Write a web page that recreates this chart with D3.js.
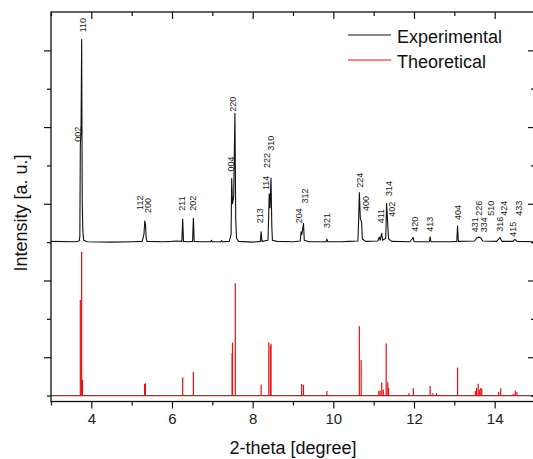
<!DOCTYPE html>
<html>
<head>
<meta charset="utf-8">
<script src="https://cdn.jsdelivr.net/npm/d3@7/dist/d3.min.js"></script>
<style>
  html, body { margin: 0; padding: 0; background: #fff; }
  svg { display: block; font-family: Arial, "Liberation Sans", sans-serif; }
</style>
</head>
<body>
<svg id="chart" width="533" height="459"></svg>
<script>
// Measured pattern (2-theta in degrees, intensity in a.u., offset above the calculated one)
const expTheta = [3.00, 3.60, 3.70, 3.715, 3.727, 3.745, 3.76, 3.775, 3.79, 3.81, 3.90, 4.50, 5.00,
  5.26, 5.305, 5.325, 5.345, 5.36, 5.38, 5.80, 6.00, 6.10, 6.245, 6.265, 6.285, 6.40, 6.51, 6.53, 6.55,
  6.70, 6.96, 6.98, 7.00, 7.21, 7.23, 7.25, 7.42, 7.465, 7.48, 7.50, 7.53, 7.56, 7.58, 7.60, 7.65,
  8.00, 8.19, 8.21, 8.23, 8.38, 8.395, 8.41, 8.43, 8.455, 8.475, 8.49, 8.60, 9.00,
  9.18, 9.20, 9.22, 9.26, 9.28, 9.40, 9.82, 9.84, 9.86, 10.20, 10.40, 10.61, 10.625, 10.645, 10.67,
  10.70, 10.72, 10.80, 11.10, 11.14, 11.16, 11.20, 11.22, 11.30, 11.32, 11.35, 11.37, 11.45,
  11.90, 11.98, 12.00, 12.38, 12.40, 12.42, 12.90, 13.06, 13.08, 13.10, 13.50, 13.55, 13.58, 13.62,
  13.66, 13.70, 14.05, 14.13, 14.18, 14.45, 14.50, 14.56, 15.00];
const expInt = [4.02, 4.01, 4.03, 4.15, 6.53, 6.90, 9.28, 5.00, 4.30, 4.05, 4.01, 4.00, 4.01,
  4.02, 4.20, 4.55, 4.45, 4.10, 4.02, 4.01, 4.02, 4.03, 4.02, 4.60, 4.02, 4.01, 4.02, 4.62, 4.02,
  4.01, 4.01, 4.05, 4.01, 4.01, 4.04, 4.01, 4.02, 4.20, 5.66, 5.00, 5.20, 7.36, 4.60, 4.10, 4.02,
  4.00, 4.02, 4.27, 4.02, 4.05, 4.60, 5.26, 4.90, 5.67, 4.40, 4.05, 4.02, 4.01,
  4.03, 4.27, 4.20, 4.49, 4.05, 4.01, 4.01, 4.08, 4.01, 4.01, 4.02, 4.03, 4.50, 5.29, 4.60,
  4.53, 4.08, 4.02, 4.03, 4.13, 4.05, 4.23, 4.05, 4.10, 5.01, 4.45, 4.08, 4.02,
  4.01, 4.12, 4.01, 4.01, 4.14, 4.01, 4.01, 4.02, 4.42, 4.02, 4.03, 4.10, 4.12, 4.13,
  4.11, 4.03, 4.02, 4.12, 4.02, 4.02, 4.07, 4.02, 4.01];

// Calculated reflections (2-theta, intensity)
const theoTheta = [3.727, 3.76, 3.78, 5.32, 5.34, 6.265, 6.53, 7.49, 7.50, 7.57, 8.21, 8.40, 8.44, 8.455,
  9.215, 9.26, 9.84, 10.645, 10.69, 11.125, 11.16, 11.20, 11.24, 11.31, 11.35, 11.37, 11.87, 11.985,
  12.40, 12.47, 12.56, 13.08, 13.52, 13.55, 13.59, 13.62, 13.655, 13.68, 14.10, 14.15, 14.46, 14.51, 14.55];
const theoInt = [2.49, 3.75, 0.41, 0.30, 0.32, 0.47, 0.62, 1.10, 1.38, 2.93, 0.28, 1.38, 1.30, 1.35,
  0.30, 0.28, 0.12, 1.81, 0.93, 0.12, 0.13, 0.34, 0.16, 1.36, 0.35, 0.20, 0.06, 0.19,
  0.25, 0.06, 0.06, 0.73, 0.12, 0.20, 0.31, 0.15, 0.20, 0.18, 0.10, 0.19, 0.05, 0.13, 0.09];

// Miller indices written above the measured peaks
const hklText  = ["110", "002", "112", "200", "211", "202", "004", "220", "213", "114", "222", "310",
  "204", "312", "321", "224", "400", "411", "314", "402", "420", "413", "404", "431", "226", "334",
  "510", "316", "424", "415", "433"];
const hklTheta = [3.786, 3.662, 5.207, 5.413, 6.241, 6.528, 7.463, 7.520, 8.182, 8.324, 8.348, 8.455,
  9.157, 9.298, 9.836, 10.662, 10.81, 11.175, 11.381, 11.463, 12.026, 12.398, 13.085, 13.513, 13.612, 13.72,
  13.903, 14.116, 14.232, 14.448, 14.604];
const hklInt   = [9.47, 6.62, 4.84, 4.76, 4.82, 4.82, 5.84, 7.40, 4.49, 5.36, 5.93, 6.38,
  4.49, 5.01, 4.37, 5.42, 4.81, 4.49, 5.20, 4.66, 4.27, 4.27, 4.58, 4.26, 4.69, 4.26,
  4.69, 4.27, 4.69, 4.14, 4.69];

const xMajor = [4, 6, 8, 10, 12, 14];
const xMinor = [3, 5, 7, 9, 11, 13, 15];
const yMajor = [1, 3, 5, 7, 9];
const yMinor = [0, 2, 4, 6, 8];

const seriesNames = ["Experimental", "Theoretical"];
const seriesColors = ["#111111", "#e81010"];

const svg = d3.select("#chart");
const plotLeft = 51, plotRight = 535, plotTop = 12, plotBottom = 401.5;

const x = d3.scaleLinear().domain([3, 15]).range([plotLeft, plotRight]);
const y = d3.scaleLinear().domain([-0.155, 10]).range([plotBottom, plotTop]);

// Calculated pattern: baseline with sticks
const theo = svg.append("g");
theo.append("line")
  .attr("x1", x(3)).attr("x2", x(15))
  .attr("y1", y(0)).attr("y2", y(0))
  .attr("stroke", seriesColors[1]).attr("stroke-width", 1.3);
theo.selectAll("line.stick")
  .data(d3.zip(theoTheta, theoInt))
  .join("line")
  .attr("class", "stick")
  .attr("x1", d => x(d[0])).attr("x2", d => x(d[0]))
  .attr("y1", y(0)).attr("y2", d => y(d[1]))
  .attr("stroke", seriesColors[1]).attr("stroke-width", 1.2);

// Measured pattern
svg.append("path")
  .datum(d3.zip(expTheta, expInt))
  .attr("fill", "none")
  .attr("stroke", seriesColors[0])
  .attr("stroke-width", 1.1)
  .attr("stroke-linejoin", "round")
  .attr("d", d3.line().x(d => x(d[0])).y(d => y(d[1])));

// Peak labels
svg.append("g").selectAll("text")
  .data(d3.zip(hklText, hklTheta, hklInt))
  .join("text")
  .attr("transform", d => `translate(${x(d[1])},${y(d[2])}) rotate(-90)`)
  .attr("dy", "0.35em")
  .attr("text-anchor", "start")
  .attr("font-size", 9)
  .attr("fill", "#222")
  .text(d => d[0]);

// Frame and ticks
const axisColor = "#111";
function styleAxis(g) {
  g.select(".domain").remove();
  g.selectAll(".tick line").attr("stroke", axisColor).attr("stroke-width", 1.2);
}
svg.append("g").attr("transform", `translate(0,${plotBottom})`)
  .call(d3.axisBottom(x).tickValues(xMajor).tickSize(7).tickPadding(5).tickFormat(d3.format("d")))
  .call(styleAxis)
  .call(g => g.selectAll("text").attr("font-size", 15).attr("fill", "#222")
    .attr("font-family", "Arial, 'Liberation Sans', sans-serif"));
svg.append("g").attr("transform", `translate(0,${plotBottom})`)
  .call(d3.axisBottom(x).tickValues(xMinor).tickSize(4).tickFormat(""))
  .call(styleAxis);
svg.append("g").attr("transform", `translate(0,${plotTop})`)
  .call(d3.axisTop(x).tickValues(xMajor).tickSize(-7).tickFormat(""))
  .call(styleAxis);
svg.append("g").attr("transform", `translate(0,${plotTop})`)
  .call(d3.axisTop(x).tickValues(xMinor).tickSize(-4).tickFormat(""))
  .call(styleAxis);
svg.append("g").attr("transform", `translate(${plotLeft},0)`)
  .call(d3.axisLeft(y).tickValues(yMajor).tickSize(7).tickFormat(""))
  .call(styleAxis);
svg.append("g").attr("transform", `translate(${plotLeft},0)`)
  .call(d3.axisLeft(y).tickValues(yMinor).tickSize(4).tickFormat(""))
  .call(styleAxis);
svg.append("g").attr("transform", `translate(${plotRight},0)`)
  .call(d3.axisRight(y).tickValues(yMajor).tickSize(-7).tickFormat(""))
  .call(styleAxis);
svg.append("g").attr("transform", `translate(${plotRight},0)`)
  .call(d3.axisRight(y).tickValues(yMinor).tickSize(-4).tickFormat(""))
  .call(styleAxis);

svg.append("rect")
  .attr("x", plotLeft).attr("y", plotTop)
  .attr("width", plotRight - plotLeft).attr("height", plotBottom - plotTop)
  .attr("fill", "none").attr("stroke", axisColor).attr("stroke-width", 1.3);

// Axis titles
svg.append("text")
  .attr("x", (plotLeft + plotRight) / 2).attr("y", 454)
  .attr("text-anchor", "middle")
  .attr("font-size", 18).attr("fill", "#111")
  .text("2-theta [degree]");
svg.append("text")
  .attr("transform", "translate(26.5,213) rotate(-90)")
  .attr("text-anchor", "middle")
  .attr("font-size", 18).attr("fill", "#111")
  .text("Intensity [a. u.]");

// Legend
const legend = svg.append("g").selectAll("g")
  .data(seriesNames)
  .join("g")
  .attr("transform", (d, i) => `translate(348,${35 + i * 25})`);
legend.append("line")
  .attr("x1", 0).attr("x2", 43)
  .attr("stroke", (d, i) => seriesColors[i]).attr("stroke-width", 1.2);
legend.append("text")
  .attr("x", 49).attr("y", 8.3)
  .attr("font-size", 18).attr("fill", "#111")
  .text(d => d);
</script>
</body>
</html>
